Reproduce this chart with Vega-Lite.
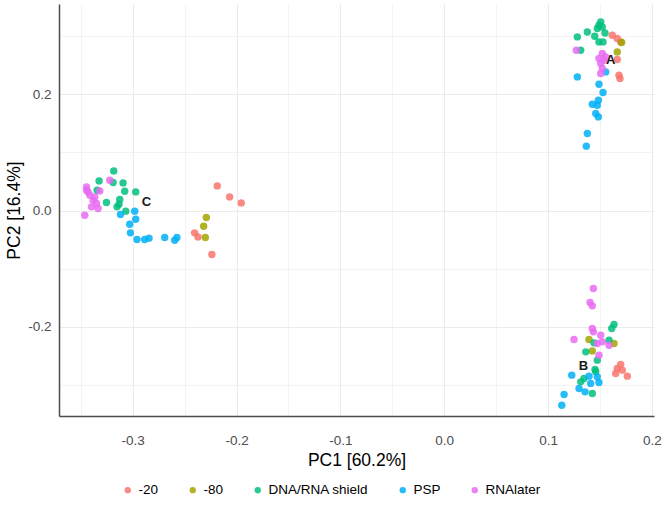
{
  "$schema": "https://vega.github.io/schema/vega-lite/v6.json",
  "width": 595,
  "height": 412,
  "autosize": {"type": "none"},
  "padding": {"left": 59, "top": 4, "right": 12, "bottom": 92},
  "background": "white",
  "config": {
    "view": {"stroke": null},
    "font": "Liberation Sans",
    "axis": {
      "domain": true,
      "domainColor": "#4d4d4d",
      "domainWidth": 1.5,
      "ticks": false,
      "gridColor": "#ebebeb",
      "labelColor": "#4d4d4d",
      "labelFontSize": 13.5,
      "labelFont": "Liberation Sans",
      "titleFont": "Liberation Sans",
      "titleFontSize": 17.5,
      "titleFontWeight": "normal",
      "titleColor": "#000000",
      "labelOverlap": false
    },
    "legend": {"labelFont": "Liberation Sans"}
  },
  "datasets": {
    "pts": [
      {"PC1": -0.2186, "PC2": 0.0424, "group": "-20"},
      {"PC1": -0.2067, "PC2": 0.0235, "group": "-20"},
      {"PC1": -0.1955, "PC2": 0.0132, "group": "-20"},
      {"PC1": -0.2404, "PC2": -0.0383, "group": "-20"},
      {"PC1": -0.2372, "PC2": -0.0452, "group": "-20"},
      {"PC1": -0.2238, "PC2": -0.0754, "group": "-20"},
      {"PC1": 0.1618, "PC2": 0.3014, "group": "-20"},
      {"PC1": 0.1666, "PC2": 0.2957, "group": "-20"},
      {"PC1": 0.1699, "PC2": 0.2899, "group": "-20"},
      {"PC1": 0.1666, "PC2": 0.2596, "group": "-20"},
      {"PC1": 0.1683, "PC2": 0.2326, "group": "-20"},
      {"PC1": 0.1692, "PC2": 0.2270, "group": "-20"},
      {"PC1": 0.1699, "PC2": -0.2644, "group": "-20"},
      {"PC1": 0.1666, "PC2": -0.2713, "group": "-20"},
      {"PC1": 0.1715, "PC2": -0.2742, "group": "-20"},
      {"PC1": 0.1651, "PC2": -0.2799, "group": "-20"},
      {"PC1": 0.1763, "PC2": -0.2845, "group": "-20"},
      {"PC1": -0.2291, "PC2": -0.0119, "group": "-80"},
      {"PC1": -0.2317, "PC2": -0.0268, "group": "-80"},
      {"PC1": -0.2301, "PC2": -0.0462, "group": "-80"},
      {"PC1": 0.1709, "PC2": 0.2888, "group": "-80"},
      {"PC1": 0.1666, "PC2": 0.2727, "group": "-80"},
      {"PC1": 0.1394, "PC2": -0.2215, "group": "-80"},
      {"PC1": 0.1426, "PC2": -0.2411, "group": "-80"},
      {"PC1": 0.1635, "PC2": -0.2284, "group": "-80"},
      {"PC1": -0.3183, "PC2": 0.0682, "group": "DNA/RNA shield"},
      {"PC1": -0.3324, "PC2": 0.0510, "group": "DNA/RNA shield"},
      {"PC1": -0.3189, "PC2": 0.0483, "group": "DNA/RNA shield"},
      {"PC1": -0.3093, "PC2": 0.0476, "group": "DNA/RNA shield"},
      {"PC1": -0.3077, "PC2": 0.0333, "group": "DNA/RNA shield"},
      {"PC1": -0.2971, "PC2": 0.0321, "group": "DNA/RNA shield"},
      {"PC1": -0.3253, "PC2": 0.0139, "group": "DNA/RNA shield"},
      {"PC1": -0.3125, "PC2": 0.0191, "group": "DNA/RNA shield"},
      {"PC1": -0.3132, "PC2": 0.0110, "group": "DNA/RNA shield"},
      {"PC1": -0.3151, "PC2": 0.0064, "group": "DNA/RNA shield"},
      {"PC1": -0.3067, "PC2": -0.0010, "group": "DNA/RNA shield"},
      {"PC1": -0.3343, "PC2": 0.0350, "group": "DNA/RNA shield"},
      {"PC1": 0.1507, "PC2": 0.3242, "group": "DNA/RNA shield"},
      {"PC1": 0.1490, "PC2": 0.3186, "group": "DNA/RNA shield"},
      {"PC1": 0.1522, "PC2": 0.3156, "group": "DNA/RNA shield"},
      {"PC1": 0.1474, "PC2": 0.3129, "group": "DNA/RNA shield"},
      {"PC1": 0.1548, "PC2": 0.3053, "group": "DNA/RNA shield"},
      {"PC1": 0.1378, "PC2": 0.3070, "group": "DNA/RNA shield"},
      {"PC1": 0.1282, "PC2": 0.2985, "group": "DNA/RNA shield"},
      {"PC1": 0.1449, "PC2": 0.2997, "group": "DNA/RNA shield"},
      {"PC1": 0.1490, "PC2": 0.2899, "group": "DNA/RNA shield"},
      {"PC1": 0.1529, "PC2": 0.2899, "group": "DNA/RNA shield"},
      {"PC1": 0.1314, "PC2": 0.2756, "group": "DNA/RNA shield"},
      {"PC1": 0.1635, "PC2": -0.1957, "group": "DNA/RNA shield"},
      {"PC1": 0.1613, "PC2": -0.2026, "group": "DNA/RNA shield"},
      {"PC1": 0.1587, "PC2": -0.2227, "group": "DNA/RNA shield"},
      {"PC1": 0.1442, "PC2": -0.2273, "group": "DNA/RNA shield"},
      {"PC1": 0.1363, "PC2": -0.2428, "group": "DNA/RNA shield"},
      {"PC1": 0.1474, "PC2": -0.2570, "group": "DNA/RNA shield"},
      {"PC1": 0.1452, "PC2": -0.2730, "group": "DNA/RNA shield"},
      {"PC1": 0.1346, "PC2": -0.2885, "group": "DNA/RNA shield"},
      {"PC1": 0.1314, "PC2": -0.2943, "group": "DNA/RNA shield"},
      {"PC1": 0.1426, "PC2": -0.3143, "group": "DNA/RNA shield"},
      {"PC1": 0.1459, "PC2": -0.2771, "group": "DNA/RNA shield"},
      {"PC1": -0.3118, "PC2": -0.0067, "group": "PSP"},
      {"PC1": -0.2981, "PC2": -0.0010, "group": "PSP"},
      {"PC1": -0.2971, "PC2": -0.0148, "group": "PSP"},
      {"PC1": -0.3029, "PC2": -0.0234, "group": "PSP"},
      {"PC1": -0.3022, "PC2": -0.0383, "group": "PSP"},
      {"PC1": -0.2959, "PC2": -0.0497, "group": "PSP"},
      {"PC1": -0.2885, "PC2": -0.0497, "group": "PSP"},
      {"PC1": -0.2843, "PC2": -0.0474, "group": "PSP"},
      {"PC1": -0.2692, "PC2": -0.0462, "group": "PSP"},
      {"PC1": -0.2596, "PC2": -0.0509, "group": "PSP"},
      {"PC1": -0.2574, "PC2": -0.0462, "group": "PSP"},
      {"PC1": 0.1282, "PC2": 0.2297, "group": "PSP"},
      {"PC1": 0.1555, "PC2": 0.2383, "group": "PSP"},
      {"PC1": 0.1490, "PC2": 0.2172, "group": "PSP"},
      {"PC1": 0.1529, "PC2": 0.2029, "group": "PSP"},
      {"PC1": 0.1484, "PC2": 0.1897, "group": "PSP"},
      {"PC1": 0.1426, "PC2": 0.1828, "group": "PSP"},
      {"PC1": 0.1474, "PC2": 0.1811, "group": "PSP"},
      {"PC1": 0.1459, "PC2": 0.1668, "group": "PSP"},
      {"PC1": 0.1484, "PC2": 0.1610, "group": "PSP"},
      {"PC1": 0.1378, "PC2": 0.1325, "group": "PSP"},
      {"PC1": 0.1368, "PC2": 0.1107, "group": "PSP"},
      {"PC1": 0.1228, "PC2": -0.2828, "group": "PSP"},
      {"PC1": 0.1394, "PC2": -0.2845, "group": "PSP"},
      {"PC1": 0.1474, "PC2": -0.2857, "group": "PSP"},
      {"PC1": 0.1490, "PC2": -0.2954, "group": "PSP"},
      {"PC1": 0.1298, "PC2": -0.3057, "group": "PSP"},
      {"PC1": 0.1356, "PC2": -0.3115, "group": "PSP"},
      {"PC1": 0.1154, "PC2": -0.3160, "group": "PSP"},
      {"PC1": 0.1132, "PC2": -0.3344, "group": "PSP"},
      {"PC1": 0.1410, "PC2": -0.2970, "group": "PSP"},
      {"PC1": -0.3445, "PC2": 0.0407, "group": "RNAlater"},
      {"PC1": -0.3430, "PC2": 0.0321, "group": "RNAlater"},
      {"PC1": -0.3413, "PC2": 0.0265, "group": "RNAlater"},
      {"PC1": -0.3445, "PC2": 0.0350, "group": "RNAlater"},
      {"PC1": -0.3382, "PC2": 0.0179, "group": "RNAlater"},
      {"PC1": -0.3349, "PC2": 0.0122, "group": "RNAlater"},
      {"PC1": -0.3397, "PC2": 0.0064, "group": "RNAlater"},
      {"PC1": -0.3334, "PC2": 0.0036, "group": "RNAlater"},
      {"PC1": -0.3462, "PC2": -0.0079, "group": "RNAlater"},
      {"PC1": -0.3221, "PC2": 0.0522, "group": "RNAlater"},
      {"PC1": -0.3317, "PC2": 0.0338, "group": "RNAlater"},
      {"PC1": -0.3365, "PC2": 0.0235, "group": "RNAlater"},
      {"PC1": 0.1272, "PC2": 0.2756, "group": "RNAlater"},
      {"PC1": 0.1522, "PC2": 0.2699, "group": "RNAlater"},
      {"PC1": 0.1490, "PC2": 0.2613, "group": "RNAlater"},
      {"PC1": 0.1538, "PC2": 0.2584, "group": "RNAlater"},
      {"PC1": 0.1507, "PC2": 0.2527, "group": "RNAlater"},
      {"PC1": 0.1522, "PC2": 0.2442, "group": "RNAlater"},
      {"PC1": 0.1507, "PC2": 0.2356, "group": "RNAlater"},
      {"PC1": 0.1555, "PC2": 0.2641, "group": "RNAlater"},
      {"PC1": 0.1436, "PC2": -0.1338, "group": "RNAlater"},
      {"PC1": 0.1404, "PC2": -0.1579, "group": "RNAlater"},
      {"PC1": 0.1426, "PC2": -0.1637, "group": "RNAlater"},
      {"PC1": 0.1426, "PC2": -0.2026, "group": "RNAlater"},
      {"PC1": 0.1436, "PC2": -0.2084, "group": "RNAlater"},
      {"PC1": 0.1250, "PC2": -0.2215, "group": "RNAlater"},
      {"PC1": 0.1507, "PC2": -0.2141, "group": "RNAlater"},
      {"PC1": 0.1474, "PC2": -0.2284, "group": "RNAlater"},
      {"PC1": 0.1587, "PC2": -0.2313, "group": "RNAlater"},
      {"PC1": 0.1490, "PC2": -0.2485, "group": "RNAlater"},
      {"PC1": 0.1522, "PC2": -0.2256, "group": "RNAlater"}
    ],
    "labels": [
      {"PC1": 0.1603, "PC2": 0.2596, "label": "A"},
      {"PC1": 0.1340, "PC2": -0.2674, "label": "B"},
      {"PC1": -0.2868, "PC2": 0.0139, "label": "C"}
    ]
  },
  "layer": [
    {
      "data": {"name": "pts"},
      "mark": {"type": "point", "filled": true, "size": 55, "opacity": 0.85, "strokeWidth": 0},
      "encoding": {
        "x": {
          "field": "PC1", "type": "quantitative",
          "scale": {"domain": [-0.371, 0.202], "nice": false, "zero": false},
          "axis": {
            "title": "PC1 [60.2%]",
            "values": [-0.35, -0.3, -0.25, -0.2, -0.15, -0.1, -0.05, 0, 0.05, 0.1, 0.15, 0.2],
            "labelExpr": "abs(datum.value*10 - round(datum.value*10)) < 0.001 ? replace(format(datum.value, '.1f'), '\u2212', '-') : ''",
            "gridWidth": {"condition": {"test": "abs(datum.value*10 - round(datum.value*10)) < 0.001", "value": 1.1}, "value": 0.6},
            "labelPadding": 17,
            "titlePadding": 5
          }
        },
        "y": {
          "field": "PC2", "type": "quantitative",
          "scale": {"domain": [-0.353, 0.355], "nice": false, "zero": false},
          "axis": {
            "title": "PC2 [16.4%]",
            "values": [-0.3, -0.2, -0.1, 0, 0.1, 0.2, 0.3],
            "labelExpr": "abs(datum.value*5 - round(datum.value*5)) < 0.001 ? replace(format(datum.value, '.1f'), '\u2212', '-') : ''",
            "gridWidth": {"condition": {"test": "abs(datum.value*5 - round(datum.value*5)) < 0.001", "value": 1.1}, "value": 0.6},
            "labelPadding": 8,
            "titlePadding": 4
          }
        },
        "color": {
          "field": "group", "type": "nominal",
          "scale": {
            "domain": ["-20", "-80", "DNA/RNA shield", "PSP", "RNAlater"],
            "range": ["#F8766D", "#A3A500", "#00BF7D", "#00B0F6", "#E76BF3"]
          },
          "legend": {
            "title": null,
            "orient": "none",
            "direction": "horizontal",
            "legendX": 62,
            "legendY": 479,
            "labelFontSize": 13.5,
            "labelColor": "#000000",
            "symbolSize": 40,
            "symbolOpacity": 0.85,
            "labelOffset": 4,
            "columnPadding": 27
          }
        }
      }
    },
    {
      "data": {"name": "labels"},
      "mark": {"type": "text", "fontWeight": "bold", "fontSize": 13, "color": "#1a1a1a", "font": "Liberation Sans"},
      "encoding": {
        "x": {"field": "PC1", "type": "quantitative"},
        "y": {"field": "PC2", "type": "quantitative"},
        "text": {"field": "label"}
      }
    }
  ]
}
